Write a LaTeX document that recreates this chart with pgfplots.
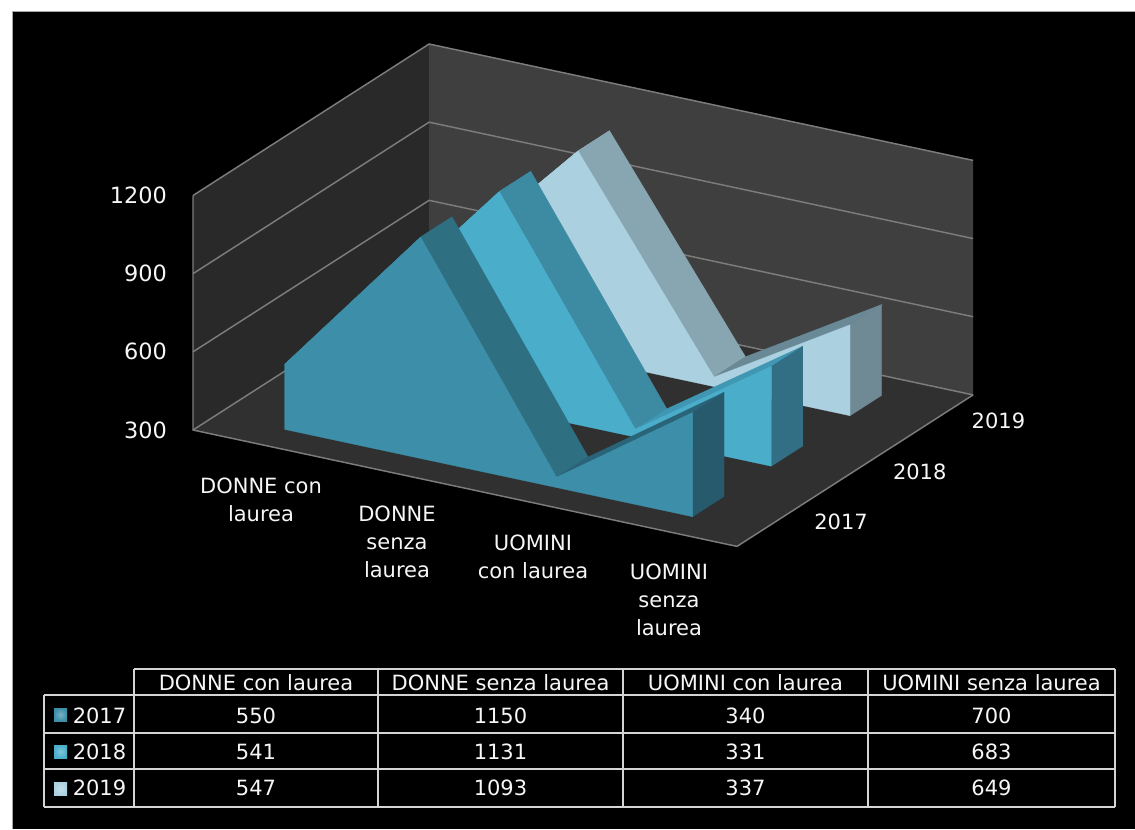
\documentclass[border=0pt]{standalone}
\usepackage{fontspec}
\setmainfont{DejaVu Sans}
\usepackage{pgfplots}
\pgfplotsset{compat=1.18}

\definecolor{wallL}{HTML}{292929}
\definecolor{wallB}{HTML}{3F3F3F}
\definecolor{floorC}{HTML}{303030}
\definecolor{gridC}{HTML}{7C7C7C}
\definecolor{txt}{HTML}{F6F6F6}
\definecolor{tabline}{HTML}{D4D4D4}
% series colours: front, top, side, rising sliver
\definecolor{aF}{HTML}{3D8EA8}\definecolor{aT}{HTML}{2E6F82}\definecolor{aS}{HTML}{265A6C}\definecolor{aL}{HTML}{2A6478}
\definecolor{bF}{HTML}{4AAECB}\definecolor{bT}{HTML}{3D8AA3}\definecolor{bS}{HTML}{326F84}\definecolor{bL}{HTML}{3F97B3}
\definecolor{cF}{HTML}{ABD1E0}\definecolor{cT}{HTML}{88A6B2}\definecolor{cS}{HTML}{6F8995}\definecolor{cL}{HTML}{6A8997}

% #1 front depth, #2 back depth, #3-#6 values, #7 colour prefix
\newcommand{\slab}[7]{%
  \addplot3[fill=#7T,draw=#7T,line width=0.2pt] coordinates {(0.5,#1,#3) (1.5,#1,#4) (1.5,#2,#4) (0.5,#2,#3)} --cycle;
  \addplot3[fill=#7T,draw=#7T,line width=0.2pt] coordinates {(1.5,#1,#4) (2.5,#1,#5) (2.5,#2,#5) (1.5,#2,#4)} --cycle;
  \addplot3[fill=#7L,draw=#7L,line width=0.2pt] coordinates {(2.5,#1,#5) (3.5,#1,#6) (3.5,#2,#6) (2.5,#2,#5)} --cycle;
  \addplot3[fill=#7S,draw=#7S,line width=0.2pt] coordinates {(3.5,#1,300) (3.5,#1,#6) (3.5,#2,#6) (3.5,#2,300)} --cycle;
  \addplot3[fill=#7F,draw=#7F,line width=0.2pt] coordinates {(0.5,#1,300) (0.5,#1,#3) (1.5,#1,#4) (2.5,#1,#5) (3.5,#1,#6) (3.5,#1,300)} --cycle;
}

\begin{document}
\begin{tikzpicture}[x=0.75pt,y=-0.75pt]
\path[use as bounding box,fill=white] (0,0) rectangle (1135,829);
\fill[black] (12,11) rectangle (1135,829);
\draw[gray!70,line width=0.5pt] (1135,11) -- (12,11) -- (12,829);

\begin{axis}[
    at={(144.75pt,-322.5pt)},
    anchor=origin,
    x={(102pt,-21.825pt)},
    y={(59.03pt,37.875pt)},
    z={(0pt,0.19542pt)},
    xmin=0, xmax=4,
    ymin=0, ymax=3,
    zmin=300, zmax=1200,
    clip=false,
    axis line style={draw=none},
    tick style={draw=none},
    xtick={0.5,1.5,2.5,3.5},
    xticklabels={{\rule{0pt}{13pt}DONNE con\\laurea},{DONNE\\senza\\laurea},{UOMINI\\con laurea},{UOMINI\\senza\\laurea}},
    ytick={0.5,1.5,2.5},
    yticklabels={2017,2018,2019},
    ztick={300,600,900,1200},
    scaled ticks=false,
    ticklabel style={text=txt,font=\fontsize{15.75}{21}\selectfont},
    /pgf/number format/assume math mode=true,
    /pgf/number format/1000 sep={},
    xticklabel style={align=center,anchor=north,yshift=-20.5pt},
    yticklabel style={anchor=center,xshift=48.5pt,yshift=-0.6pt},
    zticklabel style={anchor=east,xshift=-16pt,font=\fontsize{16.8}{21}\selectfont},
]
% walls and floor
\addplot3[fill=wallL,draw=none] coordinates {(0,0,300) (0,3,300) (0,3,1200) (0,0,1200)} --cycle;
\addplot3[fill=wallB,draw=none] coordinates {(0,3,300) (4,3,300) (4,3,1200) (0,3,1200)} --cycle;
\addplot3[fill=floorC,draw=none] coordinates {(0,0,300) (4,0,300) (4,3,300) (0,3,300)} --cycle;
\pgfplotsinvokeforeach{300,600,900,1200}{
  \addplot3[gridC,line width=1.1pt] coordinates {(0,0,#1) (0,3,#1) (4,3,#1)};
}
\addplot3[gridC,line width=1.1pt] coordinates {(0,0,1200) (0,0,300) (4,0,300) (4,3,300)};

\slab{2.3}{2.7}{547}{1093}{337}{649}{c}
\slab{1.3}{1.7}{541}{1131}{331}{683}{b}
\slab{0.3}{0.7}{550}{1150}{340}{700}{a}
\end{axis}

% data table
\draw[tabline,line width=1.5pt]
  (134,669) -- (1115,669)
  (44,695) -- (1115,695)
  (44,733) -- (1115,733)
  (44,769) -- (1115,769)
  (44,807) -- (1115,807)
  (44,695) -- (44,807)
  (134,669) -- (134,807)
  (378,669) -- (378,807)
  (623,669) -- (623,807)
  (868,669) -- (868,807)
  (1115,669) -- (1115,807);
\begin{scope}[every node/.style={text=txt,font=\fontsize{15.75}{19}\selectfont,inner sep=0pt,anchor=mid}]
\node at (256,687) {DONNE con laurea};
\node at (500.5,687) {DONNE senza laurea};
\node at (745.5,687) {UOMINI con laurea};
\node at (991.5,687) {UOMINI senza laurea};
\node at (99.5,720) {2017};
\node at (99.5,756) {2018};
\node at (99.5,792) {2019};
\node at (256,720) {550};
\node at (500.5,720) {1150};
\node at (745.5,720) {340};
\node at (991.5,720) {700};
\node at (256,756) {541};
\node at (500.5,756) {1131};
\node at (745.5,756) {331};
\node at (991.5,756) {683};
\node at (256,792) {547};
\node at (500.5,792) {1093};
\node at (745.5,792) {337};
\node at (991.5,792) {649};
\end{scope}
\shade[inner color=aF!70!white,outer color=aF] (54,708) rectangle (67,721);
\shade[inner color=bF!70!white,outer color=bF] (54,745) rectangle (67,758);
\shade[inner color=cF!70!white,outer color=cF] (54,782) rectangle (67,795);
\end{tikzpicture}
\end{document}
